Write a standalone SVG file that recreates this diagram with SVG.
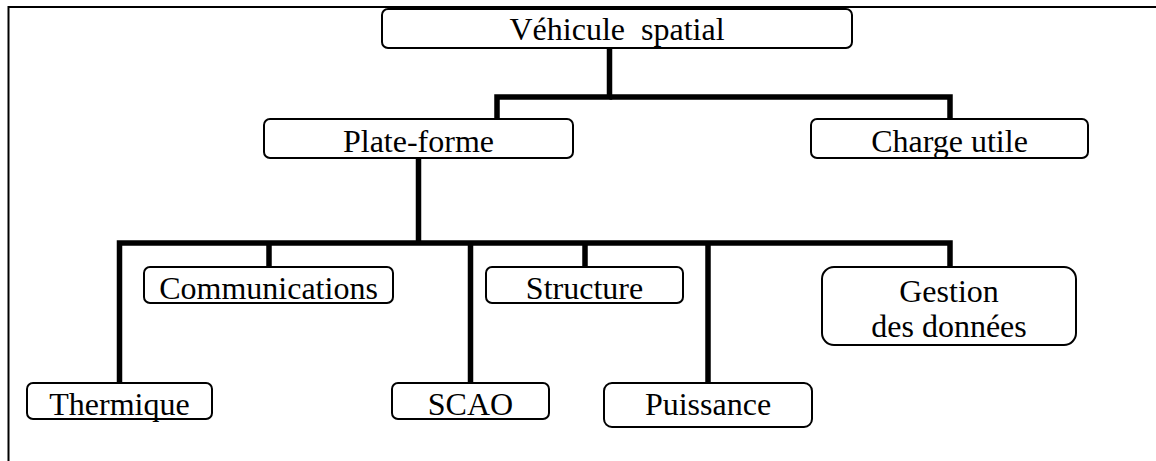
<svg xmlns="http://www.w3.org/2000/svg" width="1156" height="461" viewBox="0 0 1156 461">
<style>
.box{fill:#fff;stroke:#000;stroke-width:2}
.t{font-family:"Liberation Serif","Times New Roman",serif;font-size:32px;fill:#000;text-anchor:middle;white-space:pre}
.c{fill:none;stroke:#000;stroke-width:5.5;stroke-linecap:butt;stroke-linejoin:miter}
.frame{fill:none;stroke:#000;stroke-width:2}
</style>
<rect width="1156" height="461" fill="#fff"/>
<path class="frame" d="M8.5,461 V7 H1156"/>
<g id="connectors">
<path class="c" d="M609.5,48 V97 H497 V119"/>
<path class="c" d="M609.5,97 H950 V119"/>
<path class="c" d="M418.5,158 V243"/>
<path class="c" d="M119.5,383 V243 H950 V267"/>
<path class="c" d="M269,243 V267"/>
<path class="c" d="M470.5,243 V383"/>
<path class="c" d="M585,243 V267"/>
<path class="c" d="M708,243 V383"/>
</g>
<g id="n-vehicule">
<rect class="box" x="382" y="9" width="470" height="39" rx="6"/>
<text class="t" x="617" y="40" xml:space="preserve">Véhicule  spatial</text>
</g>
<g id="n-plateforme">
<rect class="box" x="264" y="119" width="309" height="39" rx="6"/>
<text class="t" x="418.5" y="152">Plate-forme</text>
</g>
<g id="n-charge">
<rect class="box" x="811" y="119" width="277" height="39" rx="6"/>
<text class="t" x="949.5" y="152">Charge utile</text>
</g>
<g id="n-communications">
<rect class="box" x="144" y="267" width="249" height="36" rx="6"/>
<text class="t" x="268.5" y="299">Communications</text>
</g>
<g id="n-structure">
<rect class="box" x="486" y="267" width="197" height="36" rx="6"/>
<text class="t" x="584.5" y="299">Structure</text>
</g>
<g id="n-gestion">
<rect class="box" x="822" y="267" width="254" height="78" rx="12"/>
<text class="t" x="949" y="302">Gestion</text>
<text class="t" x="949" y="337">des données</text>
</g>
<g id="n-thermique">
<rect class="box" x="27" y="383" width="185" height="36" rx="6"/>
<text class="t" x="119.5" y="415">Thermique</text>
</g>
<g id="n-scao">
<rect class="box" x="392" y="383" width="157" height="36" rx="6"/>
<text class="t" x="470.5" y="415">SCAO</text>
</g>
<g id="n-puissance">
<rect class="box" x="604" y="383" width="208" height="44" rx="8"/>
<text class="t" x="708" y="415">Puissance</text>
</g>
</svg>
